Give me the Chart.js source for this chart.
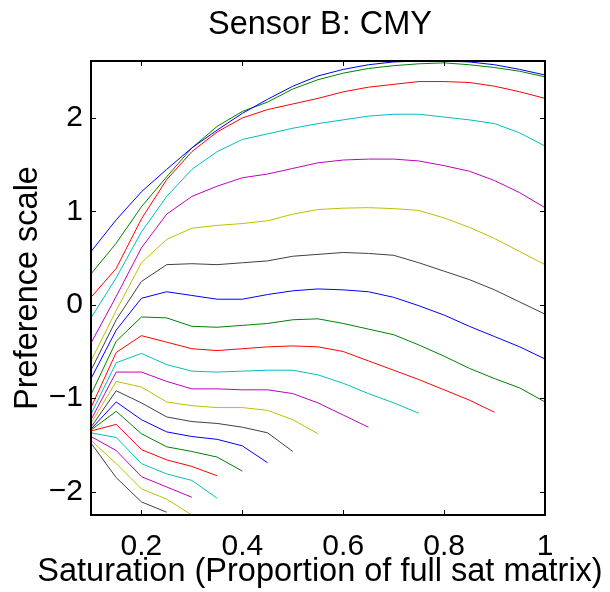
<!DOCTYPE html>
<html>
<head>
<meta charset="utf-8">
<script src="https://cdn.jsdelivr.net/npm/chart.js@4.4.1/dist/chart.umd.min.js"></script>
<style>
  html, body { margin: 0; padding: 0; background: #fff; }
  #wrap { width: 610px; height: 592px; }
</style>
</head>
<body>
<div id="wrap"><canvas id="c" width="610" height="592"></canvas></div>
<script>
// ---- data ----
const chartTitle = 'Sensor B: CMY';
const xTitle = 'Saturation (Proportion of full sat matrix)';
const yTitle = 'Preference scale';
const saturation = [0.1, 0.15, 0.2, 0.25, 0.3, 0.35, 0.4, 0.45, 0.5, 0.55, 0.6, 0.65, 0.7, 0.75, 0.8, 0.85, 0.9, 0.95, 1.0];
const xTickValues = [0.2, 0.4, 0.6, 0.8, 1];
const yTickValues = [-2, -1, 0, 1, 2];

const s01 = [0.57, 0.91, 1.21, 1.45, 1.68, 1.87, 2.05, 2.20, 2.34, 2.45, 2.52, 2.57, 2.60, 2.61, 2.61, 2.60, 2.57, 2.52, 2.46];
const s02 = [0.33, 0.66, 1.05, 1.37, 1.68, 1.91, 2.07, 2.17, 2.31, 2.41, 2.48, 2.53, 2.56, 2.58, 2.59, 2.57, 2.54, 2.50, 2.44];
const s03 = [0.08, 0.39, 0.92, 1.34, 1.64, 1.85, 2.00, 2.09, 2.15, 2.21, 2.28, 2.33, 2.36, 2.39, 2.39, 2.38, 2.34, 2.28, 2.21];
const s04 = [-0.14, 0.29, 0.78, 1.16, 1.45, 1.64, 1.77, 1.83, 1.89, 1.94, 1.98, 2.02, 2.04, 2.04, 2.01, 1.98, 1.94, 1.84, 1.70];
const s05 = [-0.41, 0.09, 0.61, 0.97, 1.16, 1.27, 1.36, 1.40, 1.46, 1.52, 1.55, 1.56, 1.56, 1.54, 1.49, 1.43, 1.33, 1.20, 1.04];
const s06 = [-0.60, -0.06, 0.45, 0.70, 0.82, 0.85, 0.87, 0.90, 0.97, 1.02, 1.035, 1.04, 1.03, 1.01, 0.93, 0.83, 0.71, 0.57, 0.43];
const s07 = [-0.70, -0.16, 0.25, 0.43, 0.44, 0.43, 0.45, 0.47, 0.52, 0.54, 0.56, 0.55, 0.53, 0.45, 0.36, 0.27, 0.16, 0.03, -0.10];
const s08 = [-0.79, -0.27, 0.07, 0.14, 0.10, 0.06, 0.06, 0.11, 0.15, 0.17, 0.16, 0.14, 0.08, -0.01, -0.11, -0.23, -0.34, -0.45, -0.58];
const s09 = [-0.96, -0.39, -0.13, -0.14, -0.23, -0.24, -0.22, -0.20, -0.16, -0.15, -0.20, -0.26, -0.32, -0.43, -0.55, -0.68, -0.79, -0.89, -1.04];
const s10 = [-1.10, -0.51, -0.33, -0.40, -0.47, -0.49, -0.47, -0.45, -0.44, -0.45, -0.50, -0.60, -0.70, -0.80, -0.91, -1.02, -1.15];
const s11 = [-1.17, -0.62, -0.52, -0.64, -0.71, -0.72, -0.71, -0.70, -0.70, -0.75, -0.84, -0.95, -1.05, -1.16];
const s12 = [-1.23, -0.72, -0.72, -0.82, -0.90, -0.90, -0.91, -0.91, -0.95, -1.05, -1.18, -1.31];
const s13 = [-1.27, -0.82, -0.88, -1.04, -1.08, -1.10, -1.10, -1.13, -1.23, -1.38];
const s14 = [-1.31, -0.92, -1.05, -1.20, -1.25, -1.27, -1.31, -1.37, -1.57];
const s15 = [-1.33, -1.04, -1.23, -1.36, -1.41, -1.44, -1.51, -1.69];
const s16 = [-1.34, -1.14, -1.38, -1.52, -1.57, -1.63, -1.78];
const s17 = [-1.35, -1.28, -1.55, -1.66, -1.73, -1.83];
const s18 = [-1.37, -1.42, -1.70, -1.81, -1.88, -2.07];
const s19 = [-1.41, -1.56, -1.84, -1.95, -2.06];
const s20 = [-1.45, -1.70, -1.97, -2.08, -2.25];
const s21 = [-1.48, -1.85, -2.11, -2.22];

const seriesList = [s01, s02, s03, s04, s05, s06, s07, s08, s09, s10, s11, s12, s13, s14, s15, s16, s17, s18, s19, s20, s21];
const colorOrder = ['rgb(0,0,255)', 'rgb(0,128,0)', 'rgb(255,0,0)', 'rgb(0,191,191)', 'rgb(191,0,191)', 'rgb(191,191,0)', 'rgb(64,64,64)'];

// ---- build datasets ----
const datasets = seriesList.map((vals, i) => ({
  label: 'Series ' + (i + 1),
  data: vals.map((v, j) => ({ x: saturation[j], y: v })),
  borderColor: colorOrder[i % colorOrder.length],
  backgroundColor: colorOrder[i % colorOrder.length],
  borderWidth: 1,
  pointRadius: 0,
  pointHoverRadius: 0,
  tension: 0,
  fill: false
}));

const FONT = '"Liberation Sans", Arial, Helvetica, sans-serif';
const TICK_LEN = 5;

const framePlugin = {
  id: 'matlabFrame',
  afterDatasetsDraw(chart) {
    const { ctx, chartArea: { left, right, top, bottom }, scales: { x, y } } = chart;
    ctx.save();
    ctx.strokeStyle = '#000';
    ctx.lineWidth = 1;
    ctx.beginPath();
    xTickValues.forEach(v => {
      const px = Math.round(x.getPixelForValue(v)) + 0.5;
      ctx.moveTo(px, bottom); ctx.lineTo(px, bottom - TICK_LEN);
      ctx.moveTo(px, top); ctx.lineTo(px, top + TICK_LEN);
    });
    yTickValues.forEach(v => {
      const py = Math.round(y.getPixelForValue(v)) + 0.5;
      ctx.moveTo(left, py); ctx.lineTo(left + TICK_LEN, py);
      ctx.moveTo(right, py); ctx.lineTo(right - TICK_LEN, py);
    });
    ctx.stroke();
    ctx.lineWidth = 2;
    ctx.strokeRect(left, top, right - left, bottom - top);
    ctx.restore();
  }
};

const fmt = v => (v < 0 ? '\u2212' + Math.abs(v) : String(v));

new Chart(document.getElementById('c'), {
  type: 'line',
  data: { datasets },
  plugins: [framePlugin],
  options: {
    responsive: false,
    animation: false,
    devicePixelRatio: 1,
    layout: { padding: { left: 30, right: 0, top: 0, bottom: 0 } },
    plugins: {
      legend: { display: false },
      tooltip: { enabled: false },
      title: {
        display: true,
        text: chartTitle,
        color: '#000',
        font: { family: FONT, size: 32.5, weight: 'normal' },
        padding: { top: 6, bottom: 16 }
      },
      subtitle: {
        display: true,
        position: 'bottom',
        text: xTitle,
        color: '#000',
        font: { family: FONT, size: 32.5, weight: 'normal' },
        padding: { top: -8, bottom: 0 }
      }
    },
    scales: {
      x: {
        type: 'linear',
        min: 0.1,
        max: 1.0,
        clip: false,
        afterBuildTicks: s => { s.ticks = xTickValues.map(v => ({ value: v })); },
        afterFit: s => { s.height = 46; },
        grid: { display: false, drawTicks: false },
        border: { display: false },
        ticks: {
          color: '#000',
          font: { family: FONT, size: 30 },
          padding: 14,
          maxRotation: 0,
          autoSkip: false,
          callback: v => fmt(v)
        }
      },
      y: {
        type: 'linear',
        min: -2.25,
        max: 2.61,
        clip: false,
        afterBuildTicks: s => { s.ticks = yTickValues.map(v => ({ value: v })); },
        afterFit: s => { s.width = 61; },
        grid: { display: false, drawTicks: false },
        border: { display: false },
        ticks: {
          color: '#000',
          font: { family: FONT, size: 30 },
          padding: 8,
          autoSkip: false,
          callback: v => fmt(v)
        },
        title: {
          display: true,
          text: yTitle,
          color: '#000',
          font: { family: FONT, size: 32.5 },
          padding: { top: -21, bottom: 0 }
        }
      },
      yRight: {
        type: 'linear',
        position: 'right',
        min: -2.25,
        max: 2.61,
        display: true,
        afterFit: s => { s.width = 65; },
        grid: { display: false, drawTicks: false },
        border: { display: false },
        ticks: { display: false }
      }
    }
  }
});
</script>
</body>
</html>
